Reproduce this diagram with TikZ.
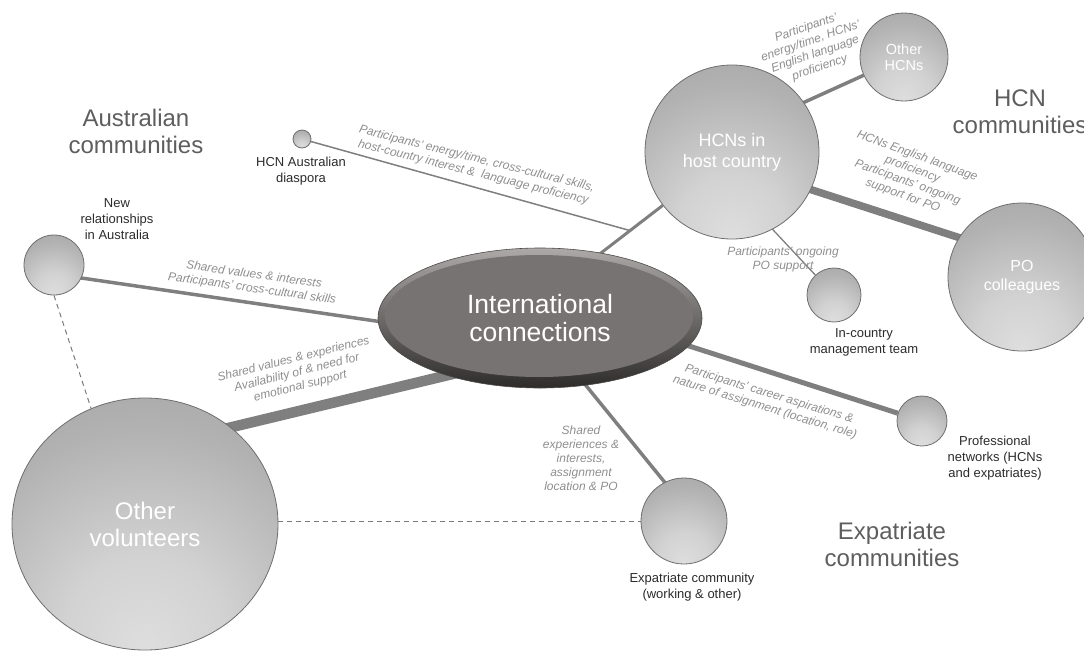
\documentclass[tikz,border=0pt]{standalone}
\usepackage{fontspec}
\setmainfont{Liberation Sans}
\usetikzlibrary{shapes.geometric,calc}
\pgfdeclarelayer{bg}
\pgfsetlayers{bg,main}

\definecolor{linkgray}{HTML}{7F7F7F}
\definecolor{dashgray}{HTML}{7A7A7A}
\definecolor{ballline}{HTML}{6E6E6E}
\definecolor{ballA}{HTML}{DEDEDE}
\definecolor{ballB}{HTML}{D2D2D2}
\definecolor{ballC}{HTML}{B2B2B2}
\definecolor{ballD}{HTML}{989898}
\definecolor{ballE}{HTML}{8A8A8A}
\definecolor{edgegray}{HTML}{8E8E8E}
\definecolor{labeldark}{HTML}{2B2B2B}
\definecolor{commgray}{HTML}{5E5E5E}
\definecolor{coreface}{HTML}{787373}
\definecolor{corehi}{HTML}{ADA9A9}
\definecolor{corelo}{HTML}{2E2B2B}
\definecolor{coreline}{HTML}{4D4949}

% sphere-like shading, brightest towards the lower middle
\pgfdeclareradialshading{ball}{\pgfpoint{0bp}{-25bp}}{%
  color(0bp)=(ballA); color(15bp)=(ballB); color(35bp)=(ballC);
  color(60bp)=(ballD); color(80bp)=(ballE); color(100bp)=(ballE)}

\begin{document}
\begin{tikzpicture}[x=1pt,y=-1pt,
  ball/.style={circle, draw=ballline, line width=0.8pt, shade, shading=ball,
    inner sep=0pt, align=center, text=white},
  core/.style={ellipse, minimum width=324pt, minimum height=140pt, inner sep=0pt,
    top color=corehi, bottom color=corelo, draw=coreline, line width=0.6pt,
    align=center, text=white, font=\fontsize{26.5}{28}\selectfont,
    path picture={\fill[coreface] ([shift={(-1pt,2pt)}]path picture bounding box.center)
      ellipse [x radius=154pt, y radius=61pt];}},
  link/.style={draw=linkgray, line cap=butt},
  dashlink/.style={draw=dashgray, line width=1pt, dash pattern=on 5pt off 4pt},
  edgelab/.style={align=center, text=edgegray, inner sep=0pt,
    font=\fontsize{12}{14}\selectfont\itshape},
  extlab/.style={align=center, text=labeldark, inner sep=0pt,
    font=\fontsize{13}{16}\selectfont},
  commlab/.style={align=center, text=commgray, inner sep=0pt,
    font=\fontsize{24}{27}\selectfont}]

\path[use as bounding box] (0,0) rectangle (1084,651);
\clip (0,0) rectangle (1084,651);

% central hub
\node[core] (core) at (540,318) {International\\connections};

% community spheres
\node[ball, minimum size=174pt, font=\fontsize{18}{21}\selectfont] (hcn) at (732,152) {HCNs in\\host country};
\node[ball, minimum size=88pt, font=\fontsize{14.5}{16}\selectfont] (otherhcn) at (904,57) {Other\\HCNs};
\node[ball, minimum size=148pt, font=\fontsize{16}{19}\selectfont] (po) at (1022,277) {PO\\colleagues};
\node[ball, minimum size=54pt] (mgmt) at (834,295) {};
\node[ball, minimum size=50pt] (prof) at (922,421) {};
\node[ball, minimum size=86pt] (expat) at (684,521) {};
\node[ball, ellipse, minimum width=266pt, minimum height=252pt, font=\fontsize{24}{27}\selectfont] (vol) at (145,524) {Other\\volunteers};
\node[ball, minimum size=60pt] (newrel) at (54,265) {};
\node[ball, minimum size=18pt] (diaspora) at (302,139) {};

% connectors, behind the spheres
\begin{pgfonlayer}{bg}
  \coordinate (corehcn) at ($(core)+(0,-18)$);
  \draw[link, line width=3pt] (corehcn) -- (hcn);
  \coordinate (fork) at ($(corehcn)!0.469!(hcn)$);
  \draw[link, line width=1.5pt] (diaspora) -- (fork);
  \draw[link, line width=3.5pt] ($(hcn)+(0,-17)$) -- (otherhcn);
  \draw[link, line width=7.5pt] ($(hcn)+(0,12)$) -- ($(po)+(0,-19)$);
  \draw[link, line width=1.3pt] ($(hcn)+(0,34)$) -- (mgmt);
  \draw[link, line width=3.5pt] ($(core)+(0,27)$) -- ($(newrel)+(0,9)$);
  \draw[link, line width=10.5pt] ($(core)+(0,35)$) -- ($(vol)+(0,-76)$);
  \draw[link, line width=5pt] ($(core)+(0,-20)$) -- (prof);
  \draw[link, line width=3.5pt] ($(core)+(0,11)$) -- ($(expat)+(0,-15)$);
  \draw[dashlink] (newrel.south) -- (vol.115);
  \draw[dashlink] (expat.west -| vol.east) -- (expat.west);
\end{pgfonlayer}

% connector labels
\node[edgelab, rotate=-14] (lbdias) at (475,166) {Participants’ energy/time, cross-cultural skills,\\host-country interest \&\ \ language proficiency};
\node[edgelab, rotate=19] (lbother) at (813,48) {Participants’\\energy/time, HCNs’\\English language\\proficiency};
\node[edgelab, rotate=-20] (lbpo) at (910,176) {HCNs English language\\proficiency\\Participants’ ongoing\\support for PO};
\node[edgelab] (lbmgmt) at (783,259) {Participants’ ongoing\\PO support};
\node[edgelab, rotate=-8] (lbnew) at (253,282) {Shared values \& interests\\Participants’ cross-cultural skills};
\node[edgelab, rotate=14] (lbvol) at (297,373) {Shared values \& experiences\\Availability of \& need for\\emotional support};
\node[edgelab, rotate=-17] (lbprof) at (767,401) {Participants’ career aspirations \&\\nature of assignment (location, role)};
\node[edgelab] (lbexpat) at (581,458) {Shared\\experiences \&\\interests,\\assignment\\location \& PO};

% sphere names
\node[extlab] (tdias) at (301,171) {HCN Australian\\diaspora};
\node[extlab] (tnew) at (117,219) {New\\relationships\\in Australia};
\node[extlab] (tmgmt) at (864,342) {In-country\\management team};
\node[extlab] (tprof) at (995,458) {Professional\\networks (HCNs\\and expatriates)};
\node[extlab] (texpat) at (692,587) {Expatriate community\\(working \& other)};

% community headings
\node[commlab] (aus) at (136,131) {Australian\\communities};
\node[commlab] (hcnc) at (1020,112) {HCN\\communities};
\node[commlab] (expc) at (892,544) {Expatriate\\communities};
\end{tikzpicture}
\end{document}
